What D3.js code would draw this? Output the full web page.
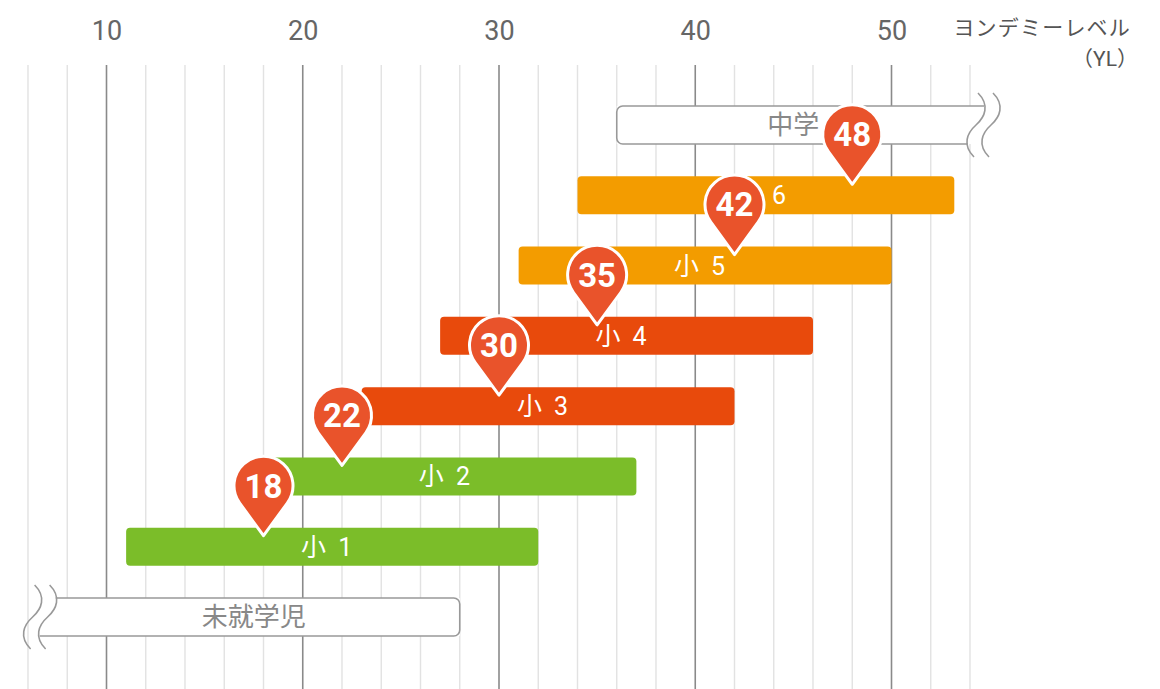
<!DOCTYPE html>
<html>
<head>
<meta charset="utf-8">
<script src="https://cdn.jsdelivr.net/npm/d3@7"></script>
<style>
	body { margin: 0; background: #fff; }
	text { font-family: Roboto, 'Noto Sans CJK JP', sans-serif; }
</style>
</head>
<body>
<div id="chart"></div>
<script>
// NOTE data
var grades = ['中学', '小 6', '小 5', '小 4', '小 3', '小 2', '小 1', '未就学児'];
var startYL = [36, 34, 31, 27, 23, 18, 11, 7];
var endYL = [54, 53.2, 50, 46, 42, 37, 32, 28];
// open-ended ranges (drawn with a break mark)
var openSide = { '中学': 'right', '未就学児': 'left' };

var markerGrades = ['小 6', '小 5', '小 4', '小 3', '小 2', '小 1'];
var markerValues = [48, 42, 35, 30, 22, 18];

var tickValues = [10, 20, 30, 40, 50];
var axisTitle = 'ヨンデミーレベル';
var axisUnit = '（YL）';

var width = 1160,
	height = 689;

var svg = d3
	.select('#chart')
	.append('svg')
	.attr('width', width)
	.attr('height', height);

var x = d3.scaleLinear().domain([6, 54]).range([28, 970]);

var y = d3.scalePoint().domain(grades).range([125, 617]);

var color = d3
	.scaleOrdinal()
	.domain(grades)
	.range(['#fff', '#f39c00', '#f39c00', '#e84a0c', '#e84a0c', '#7bbd29', '#7bbd29', '#fff']);

var barH = 38;
var radius = 4;

// grid
var grid = svg.append('g').attr('class', 'grid');
grid
	.selectAll('line')
	.data(d3.range(6, 55, 2))
	.enter()
	.append('line')
	.attr('x1', function (d) { return x(d); })
	.attr('x2', function (d) { return x(d); })
	.attr('y1', 65)
	.attr('y2', height)
	.attr('stroke', function (d) { return d % 10 === 0 ? '#8a8a8a' : '#e2e2e2'; })
	.attr('stroke-width', function (d) { return d % 10 === 0 ? 1.6 : 1.4; });

// axis on top
var axis = d3.axisTop(x).tickValues(tickValues).tickSize(0).tickPadding(0);
var axisG = svg.append('g').attr('transform', 'translate(0, 40)').call(axis);
axisG.select('.domain').remove();
axisG
	.selectAll('text')
	.attr('font-size', 27)
	.attr('fill', '#666')
	.attr('font-family', 'Roboto, sans-serif');

svg
	.append('text')
	.attr('x', 1131)
	.attr('y', 35)
	.attr('text-anchor', 'end')
	.attr('font-size', 21)
	.attr('letter-spacing', 1.2)
	.attr('fill', '#555')
	.text(axisTitle);
svg
	.append('text')
	.attr('x', 1138)
	.attr('y', 66)
	.attr('text-anchor', 'end')
	.attr('font-size', 21)
	.attr('fill', '#555')
	.text(axisUnit);

var rows = grades.map(function (g, i) {
	return { grade: g, start: startYL[i], end: endYL[i], open: openSide[g] };
});

// squiggle for a break in the range
function sPath(cx, cy) {
	return 'M' + (cx + 2) + ',' + (cy - 32) +
		'C' + (cx + 14) + ',' + (cy - 20) + ' ' + (cx + 9) + ',' + (cy - 8) + ' ' + cx + ',' + cy +
		'C' + (cx - 9) + ',' + (cy + 8) + ' ' + (cx - 14) + ',' + (cy + 20) + ' ' + (cx - 2) + ',' + (cy + 32);
}

var bars = svg.append('g').attr('class', 'bars');

rows.forEach(function (d) {
	var cy = y(d.grade),
		top = cy - barH / 2,
		bot = cy + barH / 2,
		xs = x(d.start),
		xe = x(d.end);
	if (!d.open) {
		bars
			.append('rect')
			.attr('x', xs)
			.attr('y', top)
			.attr('width', xe - xs)
			.attr('height', barH)
			.attr('rx', radius)
			.attr('fill', color(d.grade));
		bars
			.append('text')
			.attr('x', (xs + xe) / 2 - 4)
			.attr('y', cy)
			.attr('dy', '0.36em')
			.attr('text-anchor', 'middle')
			.attr('font-size', 25)
			.attr('letter-spacing', 3)
			.attr('fill', '#fff')
			.text(d.grade);
		return;
	}
	var r = 6, outline;
	if (d.open === 'left') {
		bars.append('rect').attr('x', xs - 6).attr('y', top).attr('width', xe - xs + 6).attr('height', barH).attr('fill', '#fff');
		outline = 'M' + (xs + 8) + ',' + top + 'H' + (xe - r) + 'A' + r + ',' + r + ' 0 0 1 ' + xe + ',' + (top + r) +
			'V' + (bot - r) + 'A' + r + ',' + r + ' 0 0 1 ' + (xe - r) + ',' + bot + 'H' + (xs - 8);
		bars.append('path').attr('d', sPath(xs, cy)).attr('fill', 'none').attr('stroke', '#999').attr('stroke-width', 1.6);
		bars.append('path').attr('d', sPath(xs - 15, cy)).attr('fill', 'none').attr('stroke', '#999').attr('stroke-width', 1.6);
	} else {
		var xb = xe + 6;
		bars.append('rect').attr('x', xs).attr('y', top).attr('width', xb - xs).attr('height', barH).attr('fill', '#fff');
		outline = 'M' + (xb + 8) + ',' + top + 'H' + (xs + r) + 'A' + r + ',' + r + ' 0 0 0 ' + xs + ',' + (top + r) +
			'V' + (bot - r) + 'A' + r + ',' + r + ' 0 0 0 ' + (xs + r) + ',' + bot + 'H' + (xb - 8);
		bars.append('path').attr('d', sPath(xb, cy)).attr('fill', 'none').attr('stroke', '#999').attr('stroke-width', 1.6);
		bars.append('path').attr('d', sPath(xb + 15, cy)).attr('fill', 'none').attr('stroke', '#999').attr('stroke-width', 1.6);
	}
	bars.append('path').attr('d', outline).attr('fill', 'none').attr('stroke', '#999').attr('stroke-width', 1.6);
	bars
		.append('text')
		.attr('x', (xs + xe) / 2)
		.attr('y', cy)
		.attr('dy', '0.36em')
		.attr('text-anchor', 'middle')
		.attr('font-size', 26)
		.attr('fill', '#888')
		.text(d.grade);
});

// NOTE pin markers
var pinR = 29.5,
	pinD = 50;
var cosA = pinR / pinD,
	sinA = Math.sqrt(1 - cosA * cosA);
var tx = pinR * sinA,
	ty = -pinD + pinR * cosA;
var pinPath = 'M0,0L' + -tx + ',' + ty + 'A' + pinR + ',' + pinR + ' 0 1 1 ' + tx + ',' + ty + 'Z';

var pins = svg
	.append('g')
	.attr('class', 'pins')
	.selectAll('g')
	.data(markerValues.map(function (v, i) { return { value: v, grade: markerGrades[i] }; }))
	.enter()
	.append('g')
	.attr('transform', function (d) {
		return 'translate(' + x(d.value) + ',' + (y(d.grade) - 11) + ')';
	});

pins
	.append('path')
	.attr('d', pinPath)
	.attr('fill', '#e9532b')
	.attr('stroke', '#fff')
	.attr('stroke-width', 3)
	.attr('stroke-linejoin', 'round');

pins
	.append('text')
	.attr('x', 0)
	.attr('y', -pinD)
	.attr('dy', '0.36em')
	.attr('text-anchor', 'middle')
	.attr('font-size', 33)
	.attr('font-weight', 'bold')
	.attr('fill', '#fff')
	.text(function (d) { return d.value; });
</script>
</body>
</html>
